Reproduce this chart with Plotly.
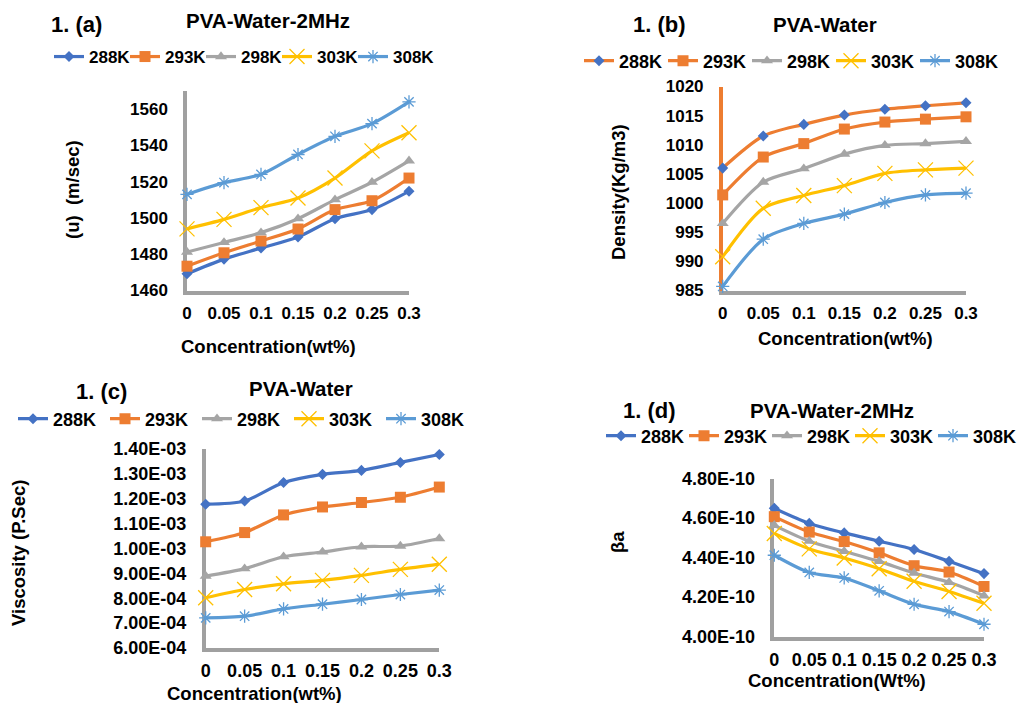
import plotly.graph_objects as go

# ---------------- data ----------------
conc = [0, 0.05, 0.1, 0.15, 0.2, 0.25, 0.3]
conc_labels = ["0", "0.05", "0.1", "0.15", "0.2", "0.25", "0.3"]
temps = ["288K", "293K", "298K", "303K", "308K"]

# (a) ultrasonic velocity u (m/sec)
u_288 = [1469.2, 1477.3, 1483.4, 1489.5, 1499.6, 1504.6, 1514.7]
u_293 = [1473.4, 1480.8, 1487.3, 1493.9, 1504.6, 1509.5, 1522.0]
u_298 = [1481.2, 1486.5, 1491.9, 1499.6, 1510.1, 1519.7, 1531.5]
u_303 = [1494.0, 1499.2, 1505.7, 1511.0, 1522.0, 1537.0, 1547.0]
u_308 = [1513.0, 1519.5, 1524.0, 1535.0, 1545.0, 1552.0, 1564.0]
u_ticks = [1460, 1480, 1500, 1520, 1540, 1560]

# (b) density (Kg/m3)
d_288 = [1006.0, 1011.5, 1013.5, 1015.1, 1016.1, 1016.7, 1017.2]
d_293 = [1001.4, 1007.9, 1010.2, 1012.7, 1013.9, 1014.4, 1014.8]
d_298 = [996.5, 1003.6, 1005.9, 1008.4, 1009.9, 1010.2, 1010.6]
d_303 = [990.8, 999.1, 1001.3, 1003.0, 1005.1, 1005.7, 1006.0]
d_308 = [985.7, 993.8, 996.5, 998.1, 1000.1, 1001.4, 1001.7]
d_ticks = [985, 990, 995, 1000, 1005, 1010, 1015, 1020]

# (c) viscosity (P.Sec)
v_288 = [1.178e-3, 1.191e-3, 1.265e-3, 1.298e-3, 1.314e-3, 1.346e-3, 1.378e-3]
v_293 = [1.027e-3, 1.064e-3, 1.135e-3, 1.167e-3, 1.185e-3, 1.206e-3, 1.247e-3]
v_298 = [8.89e-4, 9.19e-4, 9.67e-4, 9.86e-4, 1.007e-3, 1.010e-3, 1.040e-3]
v_303 = [8.02e-4, 8.35e-4, 8.58e-4, 8.72e-4, 8.92e-4, 9.16e-4, 9.37e-4]
v_308 = [7.21e-4, 7.28e-4, 7.57e-4, 7.76e-4, 7.95e-4, 8.15e-4, 8.33e-4]
v_ticks = [6e-4, 7e-4, 8e-4, 9e-4, 1.0e-3, 1.1e-3, 1.2e-3, 1.3e-3, 1.4e-3]
v_tick_labels = ["6.00E-04", "7.00E-04", "8.00E-04", "9.00E-04", "1.00E-03",
                 "1.10E-03", "1.20E-03", "1.30E-03", "1.40E-03"]

# (d) adiabatic compressibility beta_a
b_288 = [4.649e-10, 4.573e-10, 4.525e-10, 4.483e-10, 4.441e-10, 4.381e-10, 4.319e-10]
b_293 = [4.607e-10, 4.529e-10, 4.481e-10, 4.424e-10, 4.359e-10, 4.327e-10, 4.254e-10]
b_298 = [4.563e-10, 4.483e-10, 4.432e-10, 4.381e-10, 4.322e-10, 4.275e-10, 4.207e-10]
b_303 = [4.522e-10, 4.444e-10, 4.398e-10, 4.344e-10, 4.280e-10, 4.229e-10, 4.169e-10]
b_308 = [4.412e-10, 4.325e-10, 4.297e-10, 4.232e-10, 4.164e-10, 4.127e-10, 4.063e-10]
b_ticks = [4.0e-10, 4.2e-10, 4.4e-10, 4.6e-10, 4.8e-10]
b_tick_labels = ["4.00E-10", "4.20E-10", "4.40E-10", "4.60E-10", "4.80E-10"]

# ---------------- styling ----------------
W, H = 1019, 703
FONT = "Liberation Sans, Arial, sans-serif"
BLUE, ORANGE, GRAY, YELLOW, LBLUE = "#4472c4", "#ed7d31", "#a5a5a5", "#ffc000", "#5b9bd5"
AXIS_GRAY = "#a0a0a0"

line_colors = [BLUE, ORANGE, GRAY, YELLOW, LBLUE]
marker_colors = [BLUE, ORANGE, GRAY, YELLOW, LBLUE]
symbols = ["diamond", "square", "triangle-up", "x-thin", "asterisk"]
msizes = [8.5, 11, 10.5, 15, 11]


def px_x(a, b):
    return [a / W, b / W]


def px_y(top, bottom):
    return [1 - bottom / H, 1 - top / H]


fig = go.Figure()

panels = [
    dict(key="", series=[u_288, u_293, u_298, u_303, u_308], legend="legend",
         line_colors=line_colors),
    dict(key="2", series=[d_288, d_293, d_298, d_303, d_308], legend="legend2",
         line_colors=[ORANGE, ORANGE, GRAY, YELLOW, LBLUE]),
    dict(key="3", series=[v_288, v_293, v_298, v_303, v_308], legend="legend3",
         line_colors=line_colors),
    dict(key="4", series=[b_288, b_293, b_298, b_303, b_308], legend="legend4",
         line_colors=line_colors),
]

for p in panels:
    for i, (name, ys) in enumerate(zip(temps, p["series"])):
        open_sym = symbols[i] in ("x-thin", "asterisk")
        marker = dict(symbol=symbols[i], size=msizes[i], color=marker_colors[i])
        if open_sym:
            marker["line"] = dict(color=marker_colors[i], width=1.3)
        else:
            marker["line"] = dict(width=0)
        extra = {}
        if i == len(temps) - 1:
            extra["legendwidth"] = 46
        fig.add_trace(go.Scatter(
            x=conc, y=ys, name=name, mode="lines+markers",
            line=dict(color=p["line_colors"][i], width=3.2, shape="spline", smoothing=0.8),
            marker=marker, cliponaxis=False,
            xaxis="x" + p["key"], yaxis="y" + p["key"], legend=p["legend"], **extra,
        ))

tick_font17 = dict(family=FONT, size=17, color="#000000", weight="bold")
tick_font18 = dict(family=FONT, size=18, color="#000000", weight="bold")


def xaxis(dom, anchor, font):
    return dict(domain=dom, anchor=anchor, range=[-1e-6, 0.3 + 1e-6],
                tickmode="array", tickvals=conc, ticktext=conc_labels,
                showgrid=False, zeroline=False, showline=True, linecolor=AXIS_GRAY,
                linewidth=3.5, ticks="", tickfont=font, ticklabelstandoff=4,
                layer="below traces", automargin=False)


def yaxis(dom, anchor, rng, vals, texts, font, lc=AXIS_GRAY):
    return dict(domain=dom, anchor=anchor, range=rng, tickmode="array",
                tickvals=vals, ticktext=texts, showgrid=False, zeroline=False,
                showline=True, linecolor=lc, linewidth=3.5, ticks="",
                tickfont=font, ticklabelstandoff=12, layer="below traces",
                automargin=False)


fig.update_layout(
    xaxis=xaxis(px_x(187, 409), "y", tick_font17),
    yaxis=yaxis(px_y(91, 290.5), "x", [1460, 1570], u_ticks, [str(t) for t in u_ticks], tick_font17),
    xaxis2=xaxis(px_x(722.7, 966), "y2", tick_font17),
    yaxis2=yaxis(px_y(86.5, 290.5), "x2", [985, 1020], d_ticks, [str(t) for t in d_ticks],
                 tick_font17, lc=ORANGE),
    xaxis3=xaxis(px_x(205.7, 439.3), "y3", tick_font18),
    yaxis3=yaxis(px_y(449, 648), "x3", [6e-4, 1.4e-3], v_ticks, v_tick_labels, tick_font18),
    xaxis4=xaxis(px_x(774.3, 984), "y4", tick_font18),
    yaxis4=yaxis(px_y(478.5, 636.7), "x4", [4.0e-10, 4.8e-10], b_ticks, b_tick_labels, tick_font18),
)


def legend(x_px, y_px, entry_w, size):
    return dict(orientation="h", xref="container", yref="container",
                x=x_px / W, xanchor="left", y=1 - y_px / H, yanchor="middle",
                entrywidth=entry_w, entrywidthmode="pixels", bgcolor="rgba(0,0,0,0)",
                font=dict(family=FONT, size=size, color="#000000", weight="bold"),
                itemsizing="trace")


fig.update_layout(
    legend=legend(49, 57, 31, 17),
    legend2=legend(579, 61, 39, 18),
    legend3=legend(13, 419, 47, 18),
    legend4=legend(601, 436, 38, 18),
)

annotations = [
    # panel titles
    ("1. (a)", 76.5, 25, 22, 0), ("PVA-Water-2MHz", 267.5, 21, 20.5, 0),
    ("1. (b)", 659.5, 24, 22, 0), ("PVA-Water", 824.5, 24, 20.5, 0),
    ("1. (c)", 101, 391, 22, 0), ("PVA-Water", 300.5, 388, 20.5, 0),
    ("1. (d)", 649, 410, 22, 0), ("PVA-Water-2MHz", 832, 410, 20.5, 0),
    # x axis titles
    ("Concentration(wt%)", 268.5, 346.5, 18.5, 0),
    ("Concentration(wt%)", 845, 338, 18.5, 0),
    ("Concentration(wt%)", 254.5, 693, 18.5, 0),
    ("Concentration(Wt%)", 836.5, 680, 18.5, 0),
    # y axis titles
    ("(u)  (m/sec)", 72, 190, 18.5, -90),
    ("Density(Kg/m3)", 618, 192, 18.5, -90),
    ("Viscosity (P.Sec)", 18, 553, 18.5, -90),
    ("βa", 617, 542, 18.5, -90),
]
for text, x, y, size, ang in annotations:
    fig.add_annotation(text=text, x=x / W, y=1 - y / H, xref="paper", yref="paper",
                       xanchor="center", yanchor="middle", showarrow=False, textangle=ang,
                       font=dict(family=FONT, size=size, color="#000000", weight="bold"))

fig.update_layout(
    width=W, height=H, margin=dict(l=0, r=0, t=0, b=0, autoexpand=False),
    paper_bgcolor="#ffffff", plot_bgcolor="#ffffff",
    font=dict(family=FONT, color="#000000"),
)

fig.write_html("out.html", config={"displayModeBar": False},
               post_script="document.body.style.margin='0';document.body.style.overflow='hidden';")
